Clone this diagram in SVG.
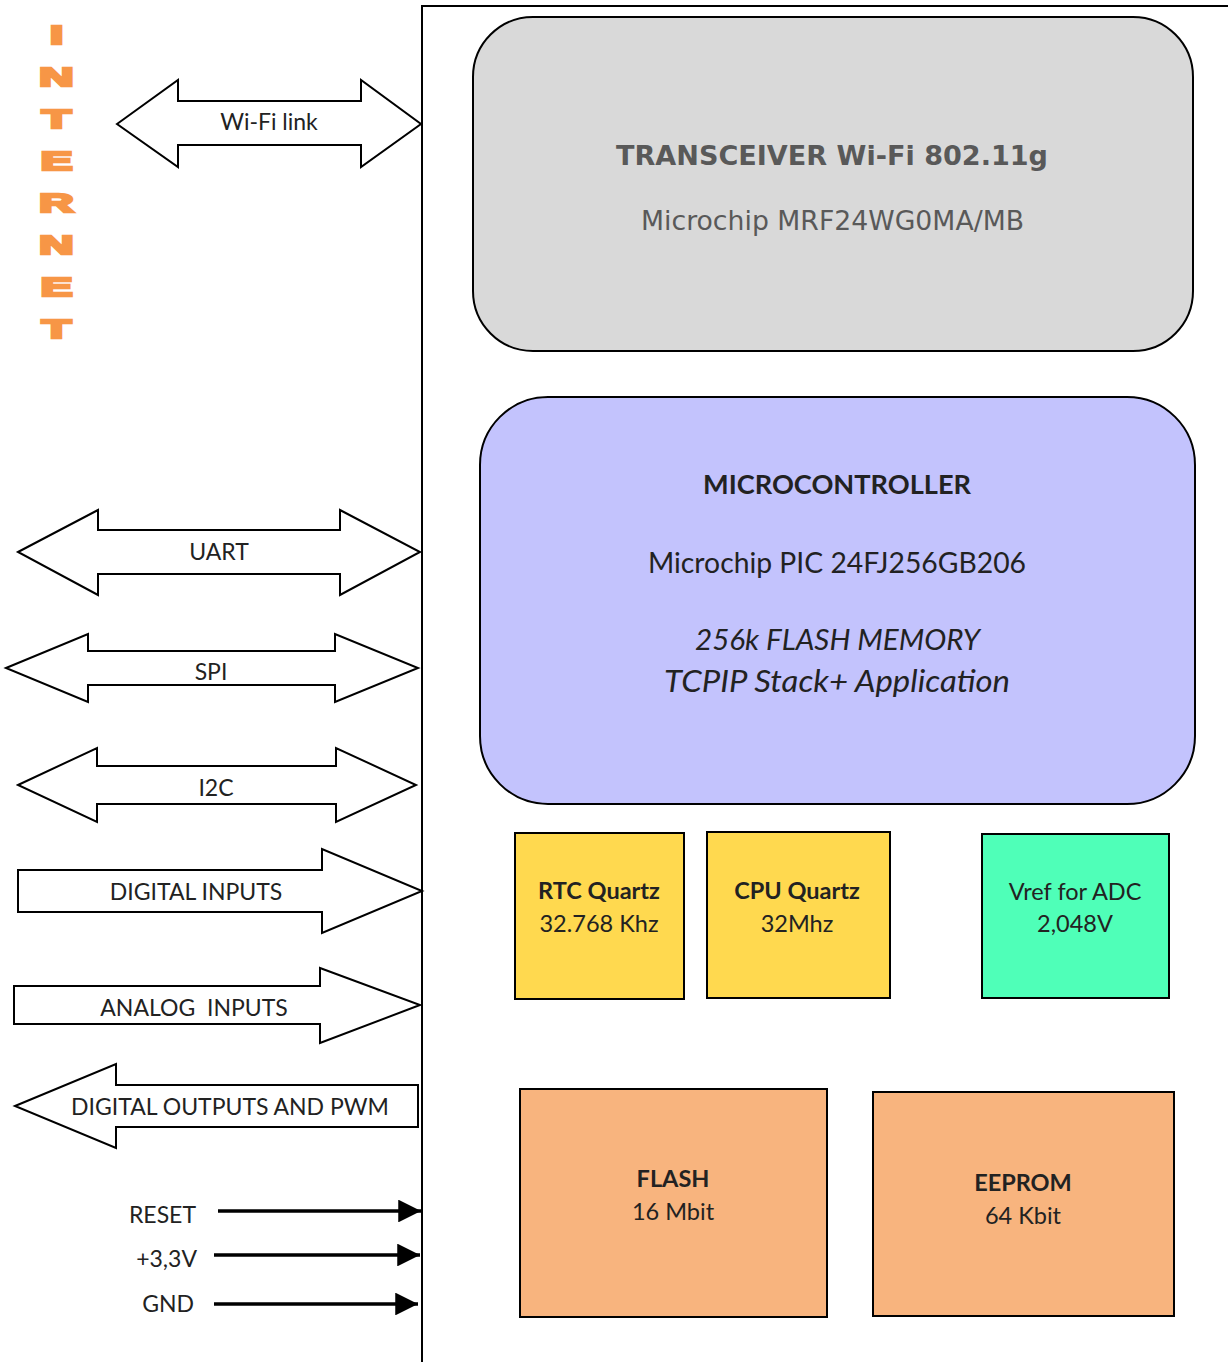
<svg xmlns="http://www.w3.org/2000/svg" width="1228" height="1362" viewBox="0 0 1228 1362">
<defs>
<style>
.frame{fill:none;stroke:#000;stroke-width:2}
.arr{fill:#fff;stroke:#000;stroke-width:2;stroke-linejoin:miter}
.lbl{font-family:Lato,"Liberation Sans",sans-serif;font-size:23px;fill:#222;text-anchor:middle;white-space:pre}
.inet{font-family:"Liberation Sans",Arial,sans-serif;font-weight:bold;font-size:25px;fill:#F79646;stroke:#F79646;stroke-width:2.5;text-anchor:middle}
.chip{font-family:Lato,"Liberation Sans",sans-serif;fill:#222;text-anchor:middle}
.b{font-weight:bold}
.wire{stroke:#000;stroke-width:3.5;fill:none}
</style>
<marker id="ah" viewBox="0 0 10 10" refX="10" refY="5" markerWidth="6.5" markerHeight="6.5" markerUnits="strokeWidth" orient="auto">
<path d="M0,0 L10,5 L0,10 Z" fill="#000"/>
</marker>
</defs>
<rect width="1228" height="1362" fill="#fff"/>
<g id="frame">
<path class="frame" d="M422,1362 V6 H1228"/>
</g>
<g id="internet">
<text class="inet" transform="translate(56.5,43.5) scale(1.9,1)">I</text>
<text class="inet" transform="translate(56.5,85.5) scale(1.9,1)">N</text>
<text class="inet" transform="translate(56.5,127.5) scale(1.9,1)">T</text>
<text class="inet" transform="translate(56.5,169.5) scale(1.9,1)">E</text>
<text class="inet" transform="translate(56.5,211.5) scale(1.9,1)">R</text>
<text class="inet" transform="translate(56.5,253.5) scale(1.9,1)">N</text>
<text class="inet" transform="translate(56.5,295.5) scale(1.9,1)">E</text>
<text class="inet" transform="translate(56.5,337.5) scale(1.9,1)">T</text>
</g>
<g id="connectors">
<g id="wifi-link">
<path class="arr" d="M117,124 L178,80 V101 H361 V80 L421,124 L361,167 V145 H178 V167 Z"/>
<text class="lbl" x="269" y="130">Wi-Fi link</text>
</g>
<g id="uart">
<path class="arr" d="M18,552 L98,510 V530 H340 V510 L420,552 L340,595 V574 H98 V595 Z"/>
<text class="lbl" x="219" y="560">UART</text>
</g>
<g id="spi">
<path class="arr" d="M6,668 L88,634 V651 H335 V634 L418,668 L335,702 V685 H88 V702 Z"/>
<text class="lbl" x="211" y="680">SPI</text>
</g>
<g id="i2c">
<path class="arr" d="M18,785 L97,748 V766 H336 V748 L416,785 L336,822 V804 H97 V822 Z"/>
<text class="lbl" x="216" y="796">I2C</text>
</g>
<g id="digital-inputs">
<path class="arr" d="M18,870 H322 V849 L422,891 L322,933 V912 H18 Z"/>
<text class="lbl" x="196" y="900">DIGITAL INPUTS</text>
</g>
<g id="analog-inputs">
<path class="arr" d="M14,986 H320 V968 L420,1005 L320,1043 V1024 H14 Z"/>
<text class="lbl" x="194" y="1016" xml:space="preserve">ANALOG  INPUTS</text>
</g>
<g id="digital-outputs">
<path class="arr" d="M15,1106 L116,1064 V1085 H418 V1127 H116 V1148 Z"/>
<text class="lbl" x="230" y="1115">DIGITAL OUTPUTS AND PWM</text>
</g>
<g id="reset">
<line class="wire" x1="218" y1="1211" x2="421" y2="1211" marker-end="url(#ah)"/>
<text class="lbl" x="196" y="1223" style="text-anchor:end">RESET</text>
</g>
<g id="v33">
<line class="wire" x1="214" y1="1255" x2="420" y2="1255" marker-end="url(#ah)"/>
<text class="lbl" x="197" y="1267" style="text-anchor:end">+3,3V</text>
</g>
<g id="gnd">
<line class="wire" x1="214" y1="1304" x2="418" y2="1304" marker-end="url(#ah)"/>
<text class="lbl" x="194" y="1312" style="text-anchor:end">GND</text>
</g>
</g>
<g id="transceiver">
<rect x="473" y="17" width="720" height="334" rx="60" ry="60" fill="#D9D9D9" stroke="#000" stroke-width="2"/>
<text x="832" y="165" font-family="'DejaVu Sans',Verdana,sans-serif" font-weight="bold" font-size="27" fill="#595959" text-anchor="middle" textLength="432" lengthAdjust="spacingAndGlyphs">TRANSCEIVER Wi-Fi 802.11g</text>
<text x="832.5" y="230" font-family="'DejaVu Sans',Verdana,sans-serif" font-size="26.8" fill="#595959" text-anchor="middle" textLength="383" lengthAdjust="spacingAndGlyphs">Microchip MRF24WG0MA/MB</text>
</g>
<g id="microcontroller">
<rect x="480" y="397" width="715" height="407" rx="68" ry="68" fill="#C3C3FD" stroke="#000" stroke-width="2"/>
<text class="chip b" x="837" y="494" font-size="27.3" textLength="268" lengthAdjust="spacingAndGlyphs">MICROCONTROLLER</text>
<text class="chip" x="837" y="573" font-size="28.3" textLength="378" lengthAdjust="spacingAndGlyphs">Microchip PIC 24FJ256GB206</text>
<text class="chip" x="837.5" y="650" font-size="29.5" font-style="italic" textLength="285" lengthAdjust="spacingAndGlyphs">256k FLASH MEMORY</text>
<text class="chip" x="837" y="692" font-size="30" font-style="italic" textLength="346" lengthAdjust="spacingAndGlyphs">TCPIP Stack+ Application</text>
</g>
<g id="rtc-quartz">
<rect x="515" y="833" width="169" height="166" fill="#FFD94F" stroke="#000" stroke-width="2"/>
<text class="chip b" x="599" y="899" font-size="23.5">RTC Quartz</text>
<text class="chip" x="599" y="932" font-size="23.5">32.768 Khz</text>
</g>
<g id="cpu-quartz">
<rect x="707" y="832" width="183" height="166" fill="#FFD94F" stroke="#000" stroke-width="2"/>
<text class="chip b" x="797" y="899" font-size="23.5">CPU Quartz</text>
<text class="chip" x="797" y="932" font-size="23.5">32Mhz</text>
</g>
<g id="vref">
<rect x="982" y="834" width="187" height="164" fill="#4FFFB8" stroke="#000" stroke-width="2"/>
<text class="chip" x="1075" y="900" font-size="23.5">Vref for ADC</text>
<text class="chip" x="1075" y="932" font-size="23.5">2,048V</text>
</g>
<g id="flash">
<rect x="520" y="1089" width="307" height="228" fill="#F8B47E" stroke="#000" stroke-width="2"/>
<text class="chip b" x="673" y="1187" font-size="23.5">FLASH</text>
<text class="chip" x="673" y="1220" font-size="23.5">16 Mbit</text>
</g>
<g id="eeprom">
<rect x="873" y="1092" width="301" height="224" fill="#F8B47E" stroke="#000" stroke-width="2"/>
<text class="chip b" x="1023" y="1191" font-size="23.5">EEPROM</text>
<text class="chip" x="1023" y="1224" font-size="23.5">64 Kbit</text>
</g>
</svg>
